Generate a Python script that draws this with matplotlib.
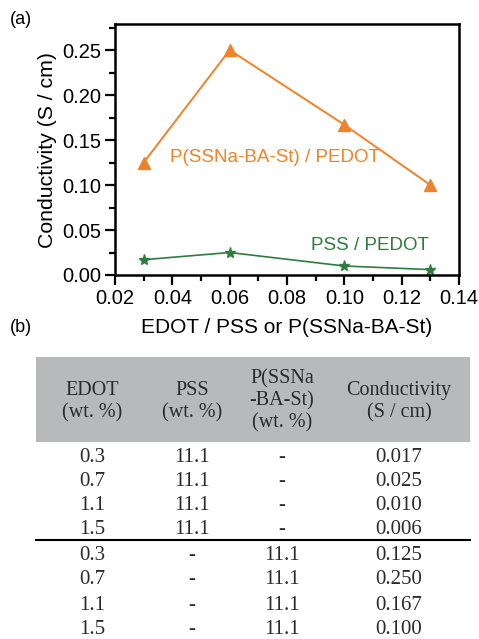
import matplotlib
matplotlib.use("Agg")
import matplotlib.pyplot as plt
from matplotlib.ticker import MultipleLocator

ratio = [0.03, 0.06, 0.10, 0.13]
pss_cond = [0.017, 0.025, 0.010, 0.006]
pssna_cond = [0.125, 0.250, 0.167, 0.100]

edot_wt = ["0.3", "0.7", "1.1", "1.5", "0.3", "0.7", "1.1", "1.5"]
pss_wt = ["11.1", "11.1", "11.1", "11.1", "-", "-", "-", "-"]
pssna_wt = ["-", "-", "-", "-", "11.1", "11.1", "11.1", "11.1"]
cond_txt = ["0.017", "0.025", "0.010", "0.006", "0.125", "0.250", "0.167", "0.100"]
headers = ["EDOT\n(wt. %)", "PSS\n(wt. %)", "P(SSNa\n-BA-St)\n(wt. %)", "Conductivity\n(S / cm)"]

ORANGE = "#f0822a"
GREEN = "#2e7d3e"

W, H = 479, 639
fig = plt.figure(figsize=(W / 100, H / 100), dpi=100)
plt.rcParams['font.family'] = ['Liberation Sans', 'DejaVu Sans']

ax = fig.add_axes([115 / W, 1 - 275 / H, (459 - 115) / W, (275 - 24) / H])
ax.plot(ratio, pssna_cond, color=ORANGE, marker="^", markersize=8, lw=1.4)
ax.plot(ratio, pss_cond, color=GREEN, marker="*", markersize=8, lw=1.2)
ax.set_xlim(0.02, 0.14)
ax.set_ylim(0.0, 0.279)
ax.xaxis.set_major_locator(MultipleLocator(0.02))
ax.xaxis.set_minor_locator(MultipleLocator(0.01))
ax.yaxis.set_major_locator(MultipleLocator(0.05))
ax.yaxis.set_minor_locator(MultipleLocator(0.025))
ax.xaxis.set_major_formatter(plt.FuncFormatter(lambda v, p: f"{v:.2f}"))
ax.yaxis.set_major_formatter(plt.FuncFormatter(lambda v, p: f"{v:.2f}"))
ax.tick_params(which="both", direction="out", top=False, right=False, width=1.6, labelsize=14.5)
ax.tick_params(which="major", length=7, pad=3)
ax.tick_params(which="minor", length=4.5)
for s in ax.spines.values():
    s.set_linewidth(1.8)
ax.set_xlabel("EDOT / PSS or P(SSNa-BA-St)", fontsize=15, labelpad=7)
ax.set_ylabel("Conductivity (S / cm)", fontsize=15.3, labelpad=4)
ax.text(0.0758, 0.131, "P(SSNa-BA-St) / PEDOT", color=ORANGE, fontsize=13.5, ha="center", va="center")
ax.text(0.109, 0.033, "PSS / PEDOT", color=GREEN, fontsize=13.5, ha="center", va="center")

fig.text(10 / W, 1 - 20 / H, "(a)", fontsize=13, va="center", ha="left")
fig.text(10 / W, 1 - 328 / H, "(b)", fontsize=13, va="center", ha="left")

# Table (b)
tax = fig.add_axes([0, 0, 1, 1])
tax.set_xlim(0, W)
tax.set_ylim(H, 0)
tax.axis("off")
tax.add_patch(plt.Rectangle((36, 357), 434, 85, color="#b8b9bb", lw=0))
col_x = [92, 192, 282, 399]
serif = ['Liberation Serif', 'DejaVu Serif']
header_y = [402, 402, 401, 402]
for cx, hy, htxt in zip(col_x, header_y, headers):
    tax.text(cx, hy, htxt, ha="center", va="center", fontsize=14.5, family=serif,
             color="#2a2a2a", linespacing=1.2)
row_y = [457, 482, 506, 530, 555, 580, 605, 630]
for i, ry in enumerate(row_y):
    for cx, val in zip(col_x, [edot_wt[i], pss_wt[i], pssna_wt[i], cond_txt[i]]):
        tax.text(cx, ry, val, ha="center", va="center", fontsize=15, family=serif, color="#2a2a2a")
tax.plot([36, 470], [540, 540], color="black", lw=1.5)

fig.savefig("out.png", dpi=100)
